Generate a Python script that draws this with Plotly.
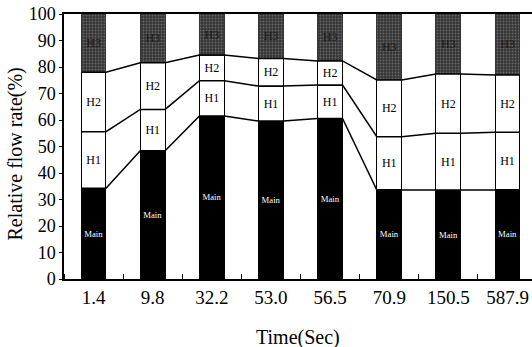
import plotly.graph_objects as go
import numpy as np

categories = ["1.4", "9.8", "32.2", "53.0", "56.5", "70.9", "150.5", "587.9"]
main_vals = [34.2, 48.4, 61.5, 59.6, 60.6, 33.6, 33.4, 33.6]
h1_vals = [21.4, 15.6, 13.3, 13.2, 12.6, 20.1, 21.6, 21.8]
h2_vals = [22.4, 17.6, 9.7, 10.4, 9.1, 21.4, 22.4, 21.6]
h3_vals = [22.0, 18.4, 15.5, 16.8, 17.7, 24.9, 22.6, 23.0]

x = list(range(len(categories)))
bw = 0.42
serif = "Liberation Serif"

fig = go.Figure()
fig.add_trace(go.Bar(x=x, y=main_vals, width=bw, name="Main",
                     marker=dict(color="black", line=dict(color="black", width=1)),
                     text=["Main"] * len(x), textposition="inside", insidetextanchor="middle",
                     textangle=0, insidetextfont=dict(family=serif, size=9, color="white")))
fig.add_trace(go.Bar(x=x, y=h1_vals, width=bw, name="H1",
                     marker=dict(color="white", line=dict(color="black", width=1)),
                     text=["H1"] * len(x), textposition="inside", insidetextanchor="middle",
                     textangle=0, insidetextfont=dict(family=serif, size=12, color="black")))
fig.add_trace(go.Bar(x=x, y=h2_vals, width=bw, name="H2",
                     marker=dict(color="white", line=dict(color="black", width=1)),
                     text=["H2"] * len(x), textposition="inside", insidetextanchor="middle",
                     textangle=0, insidetextfont=dict(family=serif, size=12, color="black")))
fig.add_trace(go.Bar(x=x, y=h3_vals, width=bw, name="H3",
                     marker=dict(color="#353535", line=dict(color="#353535", width=1),
                                 pattern=dict(shape=".", fgcolor="#9a9a9a", size=3, solidity=0.3)),
                     text=["H3"] * len(x), textposition="inside", insidetextanchor="middle",
                     textangle=0, insidetextfont=dict(family=serif, size=12, color="#1a1a1a")))

# connecting lines between segment boundaries
cum = np.cumsum(np.array([main_vals, h1_vals, h2_vals]), axis=0)
for row in cum:
    lx, ly = [], []
    for i, v in zip(x, row):
        lx += [i - bw / 2, i + bw / 2]
        ly += [v, v]
    fig.add_trace(go.Scatter(x=lx, y=ly, mode="lines", line=dict(color="black", width=1.5),
                             hoverinfo="skip", showlegend=False))

fig.update_layout(
    barmode="stack", width=532, height=347,
    margin=dict(l=64, r=0, t=14, b=68, autoexpand=False),
    plot_bgcolor="white", paper_bgcolor="white", showlegend=False,
    font=dict(family=serif, color="black"),
    annotations=[
        dict(text="Time(Sec)", xref="paper", yref="paper", x=0.5, y=-0.22,
             xanchor="center", yanchor="middle", showarrow=False,
             font=dict(family=serif, size=20, color="black")),
        dict(text="Relative flow rate(%)", xref="paper", yref="paper", x=-0.1015, y=0.4717,
             xanchor="center", yanchor="middle", textangle=-90, showarrow=False,
             font=dict(family=serif, size=20, color="black")),
    ],
)
fig.update_xaxes(range=[-0.5, 7.414], tickvals=x, ticktext=categories, ticks="",
                 tickfont=dict(family=serif, size=19), showline=True, linecolor="black",
                 linewidth=1.5, mirror=True, showgrid=False, zeroline=False, automargin=False,
                 minor=dict(tick0=0.5, dtick=1, ticks="inside", ticklen=5, tickcolor="black"))
fig.update_yaxes(range=[0, 100], dtick=10, ticks="outside", ticklen=3, tickcolor="black",
                 tickfont=dict(family=serif, size=18), showline=True, linecolor="black",
                 linewidth=1.5, showgrid=False, zeroline=False, automargin=False)

fig.write_html("out.html", config={"displayModeBar": False},
               post_script="document.body.style.margin='0px';")
